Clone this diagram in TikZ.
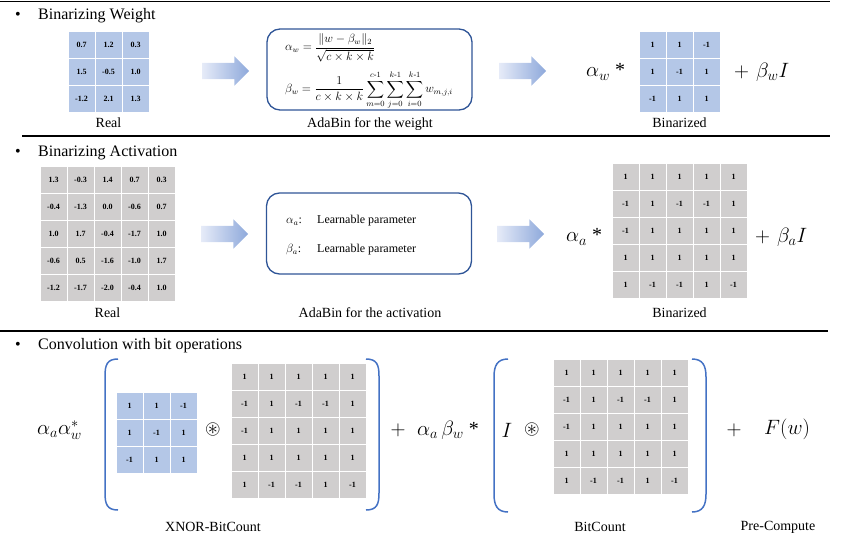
\documentclass[tikz,border=0pt]{standalone}
\usepackage{amsmath,amssymb}
\usepackage{fontspec}
\setmainfont{Liberation Serif}
\usetikzlibrary{shapes.arrows}
\definecolor{cellblue}{HTML}{B4C7E7}
\definecolor{cellgray}{HTML}{D0CECE}
\definecolor{boxblue}{HTML}{2F5597}
\definecolor{brblue}{HTML}{4472C4}
\definecolor{arrL}{HTML}{E6EBF8}
\definecolor{arrR}{HTML}{8EA9DB}
\tikzset{
  gridcell/.style={minimum width=27pt, minimum height=27pt, inner sep=0pt, draw=white, line width=0.9pt, font=\bfseries\fontsize{8}{8}\selectfont},
  bigarrow/.style={single arrow, single arrow head extend=6.5pt, single arrow head indent=0pt, inner xsep=0pt, inner ysep=8pt, minimum height=47pt, left color=arrL, right color=arrR, draw=none},
  heading/.style={anchor=west, inner sep=0pt, font=\fontsize{16}{18}\selectfont},
  lbl/.style={inner sep=0pt, font=\fontsize{14}{16}\selectfont},
  bigmath/.style={inner sep=0pt, font=\fontsize{20}{22}\selectfont},
  formula/.style={anchor=west, inner sep=0pt, font=\fontsize{12}{14}\selectfont},
  adabox/.style={draw=boxblue, line width=1.3pt, rounded corners=13pt, minimum width=205pt, minimum height=81pt},
  bracket/.style={draw=brblue, line width=1.5pt},
  sepline/.style={line width=1.6pt}
}
\newcommand\mygrid[5]{%
  \foreach \row [count=\i] in {#5} {
    \foreach \v [count=\j] in \row {
      \node[gridcell, fill=#4] (#1-\i-\j) at ({#2+(\j-0.5)*27},{#3+(\i-0.5)*27}) {\v};
    }
  }
}
\begin{document}
\begin{tikzpicture}[x=1pt,y=-1pt]
\useasboundingbox (0,0) rectangle (853,538);
% separators
\draw[sepline] (0,1.5) -- (830,1.5);
\draw[sepline] (22,136) -- (830,136);
\draw[sepline] (0,331) -- (828,331);

% ---------- Section 1 ----------
\node[heading] (h1) at (15,16) {\makebox[23pt][l]{\textbullet}Binarizing Weight};
\mygrid{rw}{68}{31}{cellblue}{{0.7,1.2,0.3},{1.5,-0.5,1.0},{-1.2,2.1,1.3}}
\node[lbl] (realw) at (108.5,123) {Real};
\node[bigarrow] (arrA) at (221.5,71) {};
\node[adabox] (boxw) at (369.5,69.5) {};
\node[formula] (fa) at (285,48) {$\displaystyle \alpha_w = \frac{\|w-\beta_w\|_2}{\sqrt{c\times k\times k}}$};
\node[formula] (fb) at (285,90) {$\displaystyle \beta_w = \frac{1}{c\times k\times k}\sum_{m=0}^{c\text{-}1}\sum_{j=0}^{k\text{-}1}\sum_{i=0}^{k\text{-}1} w_{m,j,i}$};
\node[lbl] (adaw) at (370,124) {AdaBin for the weight};
\node[bigarrow] (arrB) at (518.5,71) {};
\node[bigmath, anchor=west] (aw) at (586,72) {$\alpha_w$ *};
\mygrid{bw}{639}{31}{cellblue}{{1,1,-1},{1,-1,1},{-1,1,1}}
\node[bigmath, anchor=west] (bwI) at (734,72) {$+$\hspace{7pt}$\beta_w I$};
\node[lbl] (binw) at (679.5,123) {Binarized};

% ---------- Section 2 ----------
\node[heading] (h2) at (15,153) {\makebox[23pt][l]{\textbullet}Binarizing Activation};
\mygrid{ra}{40}{166}{cellgray}{{1.3,-0.3,1.4,0.7,0.3},{-0.4,-1.3,0.0,-0.6,0.7},{1.0,1.7,-0.4,-1.7,1.0},{-0.6,0.5,-1.6,-1.0,1.7},{-1.2,-1.7,-2.0,-0.4,1.0}}
\node[lbl] (reala) at (107.5,313) {Real};
\node[bigarrow] (arrC) at (220.5,234) {};
\node[adabox] (boxa) at (369,233.5) {};
\node[anchor=west, inner sep=0pt, font=\fontsize{12}{14}\selectfont] (la) at (286,221) {\makebox[31pt][l]{$\alpha_a$:}Learnable parameter};
\node[anchor=west, inner sep=0pt, font=\fontsize{12}{14}\selectfont] (lb) at (286,250) {\makebox[31pt][l]{$\beta_a$:}Learnable parameter};
\node[lbl] (adaa) at (370,313) {AdaBin for the activation};
\node[bigarrow] (arrD) at (516.5,234) {};
\node[bigmath, anchor=west] (aa) at (566,237) {$\alpha_a$ *};
\mygrid{ba}{612}{163}{cellgray}{{1,1,1,1,1},{-1,1,-1,-1,1},{-1,1,1,1,1},{1,1,1,1,1},{1,-1,-1,1,-1}}
\node[bigmath, anchor=west] (baI) at (755,237) {$+$\hspace{7pt}$\beta_a I$};
\node[lbl] (bina) at (679.5,313) {Binarized};

% ---------- Section 3 ----------
\node[heading] (h3) at (15,346) {\makebox[23pt][l]{\textbullet}Convolution with bit operations};
\node[bigmath, anchor=west] (aaw) at (37,430) {$\alpha_a\alpha_w^{*}$};
\draw[bracket] (118,359) .. controls (107,359) and (105,365) .. (105,376) -- (105,493) .. controls (105,504) and (107,510) .. (118,510);
\mygrid{cw}{116}{392}{cellblue}{{1,1,-1},{1,-1,1},{-1,1,1}}
\node[bigmath] (ox1) at (213,429) {$\circledast$};
\mygrid{ca}{231}{363}{cellgray}{{1,1,1,1,1},{-1,1,-1,-1,1},{-1,1,1,1,1},{1,1,1,1,1},{1,-1,-1,1,-1}}
\draw[bracket] (366,359) .. controls (377,359) and (379,365) .. (379,376) -- (379,493) .. controls (379,504) and (377,510) .. (366,510);
\node[bigmath] (plus1) at (398,430) {$+$};
\node[bigmath, anchor=west] (abw) at (417,430) {$\alpha_a\,\beta_w$ *};
\draw[bracket] (508,359) .. controls (497,359) and (494,366) .. (494,377) -- (494,494) .. controls (494,505) and (497,512) .. (508,512);
\node[bigmath] (Iid) at (507,430) {$I$};
\node[bigmath] (ox2) at (532,429) {$\circledast$};
\mygrid{cb}{553}{359}{cellgray}{{1,1,1,1,1},{-1,1,-1,-1,1},{-1,1,1,1,1},{1,1,1,1,1},{1,-1,-1,1,-1}}
\draw[bracket] (692,359) .. controls (703,359) and (706,366) .. (706,377) -- (706,494) .. controls (706,505) and (703,512) .. (692,512);
\node[bigmath] (plus2) at (734,430) {$+$};
\node[bigmath, anchor=west] (Fw) at (764,429) {$F(w)$};
\node[lbl] (xnor) at (213,527) {XNOR-BitCount};
\node[lbl] (bitc) at (600,527) {BitCount};
\node[lbl] (prec) at (778,527) {Pre-Compute};
\end{tikzpicture}
\end{document}
